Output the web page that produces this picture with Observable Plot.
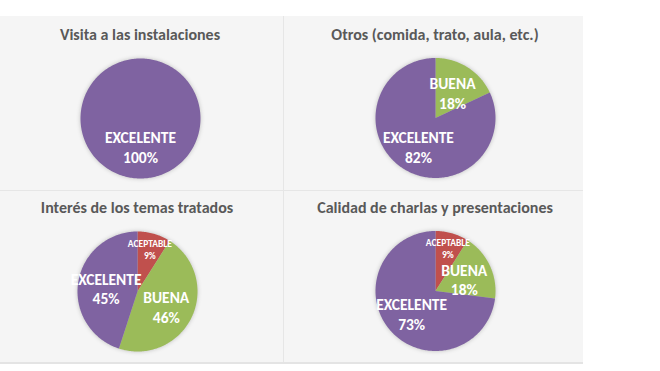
<!DOCTYPE html>
<html>
<head>
<meta charset="utf-8">
<script src="https://cdn.jsdelivr.net/npm/d3@7"></script>
<script src="https://cdn.jsdelivr.net/npm/@observablehq/plot@0.6"></script>
<style>
  html, body { margin: 0; padding: 0; background: #ffffff; }
  #root { position: relative; width: 660px; height: 371px; overflow: hidden; font-family: Carlito, Lato, "Open Sans", sans-serif; }
  #board { position: absolute; left: 0; top: 16px; width: 583px; height: 346px; background: #f5f5f5; border-bottom: 2px solid #e4e4e4; }
  .panel { position: absolute; }
  .panel .ttl { position: absolute; text-align: center; font-weight: 700; font-size: 16px; line-height: 20px; color: #595959; white-space: nowrap; }
  .vline { position: absolute; left: 283px; top: 16px; width: 1px; height: 346px; background: #e6e6e6; }
  .hline { position: absolute; left: 0; top: 190px; width: 583px; height: 1px; background: #e6e6e6; }
  svg g[aria-label="line"] { filter: drop-shadow(0 0 2px rgba(0,0,0,0.22)); }
</style>
</head>
<body>
<div id="root">
  <div id="board"></div>
  <div class="vline"></div>
  <div class="hline"></div>
</div>
<script>
// ---- data ----
const panelTitles = [
  "Visita a las instalaciones",
  "Otros (comida, trato, aula, etc.)",
  "Interés de los temas tratados",
  "Calidad de charlas y presentaciones"
];
const categories = ["ACEPTABLE", "BUENA", "EXCELENTE"];
const visitaValues = [0, 0, 100];
const otrosValues = [0, 18, 82];
const interesValues = [9, 46, 45];
const calidadValues = [9, 18, 73];
const panelValues = [visitaValues, otrosValues, interesValues, calidadValues];

// ---- styles / layout ----
const palette = ["#c0504d", "#9bbb59", "#7f63a1"];
const layout = [
  {left: 0,   top: 16,  width: 283, height: 174, cx: 140, cy: 102, titleTop: 9},
  {left: 283, top: 16,  width: 300, height: 174, cx: 152, cy: 101.5, titleTop: 9},
  {left: 0,   top: 190, width: 283, height: 172, cx: 137, cy: 101, titleTop: 8},
  {left: 283, top: 190, width: 300, height: 172, cx: 152, cy: 100.5, titleTop: 8}
];
const R = 60;
const labelFont = "Carlito, Lato, sans-serif";

const root = document.getElementById("root");

panelValues.forEach((vals, i) => {
  const L = layout[i];
  const rows = categories.map((c, k) => ({cat: c, value: vals[k]})).filter(d => d.value > 0);
  const arcs = d3.pie().sort(null).value(d => d.value)(rows);

  // polygon vertices for each slice (unit circle, angle 0 at 12 o'clock, clockwise)
  const pts = [];
  arcs.forEach(a => {
    const n = Math.max(2, Math.ceil((a.endAngle - a.startAngle) / 0.02));
    pts.push({cat: a.data.cat, x: 0, y: 0});
    for (let s = 0; s <= n; s++) {
      const t = a.startAngle + (a.endAngle - a.startAngle) * s / n;
      pts.push({cat: a.data.cat, x: Math.sin(t), y: Math.cos(t)});
    }
    pts.push({cat: a.data.cat, x: 0, y: 0});
  });

  const labels = arcs.map(a => {
    const mid = (a.startAngle + a.endAngle) / 2;
    const small = a.data.value < 10;
    const f = a.data.value === 100 ? 0.44 : small ? 0.74 : 0.53;
    return {
      cat: a.data.cat,
      small,
      x: Math.sin(mid) * f,
      y: Math.cos(mid) * f - (small ? 0 : 0.03),
      text: a.data.cat + "\n" + a.data.value + "%"
    };
  });

  const chart = Plot.plot({
    width: L.width,
    height: L.height,
    margin: 0,
    style: {background: "transparent", overflow: "visible"},
    x: {domain: [-1, 1], range: [L.cx - R, L.cx + R], axis: null},
    y: {domain: [-1, 1], range: [L.cy + R, L.cy - R], axis: null},
    color: {domain: categories, range: palette},
    marks: [
      Plot.line(pts, {x: "x", y: "y", z: "cat", fill: "cat", stroke: null, curve: "linear"}),
      Plot.text(labels.filter(d => !d.small), {
        x: "x", y: "y", text: "text", fill: "white", fontWeight: 700,
        fontSize: 15.5, lineHeight: 1.27, fontFamily: labelFont
      }),
      Plot.text(labels.filter(d => d.small), {
        x: "x", y: "y", text: "text", fill: "white", fontWeight: 700,
        fontSize: 9.5, lineHeight: 1.25, fontFamily: labelFont
      })
    ]
  });

  const panel = document.createElement("div");
  panel.className = "panel";
  panel.style.left = L.left + "px";
  panel.style.top = L.top + "px";
  panel.style.width = L.width + "px";
  panel.style.height = L.height + "px";
  const ttl = document.createElement("div");
  ttl.className = "ttl";
  ttl.style.top = L.titleTop + "px";
  ttl.style.left = (L.cx - 200) + "px";
  ttl.style.width = "400px";
  ttl.textContent = panelTitles[i];
  panel.appendChild(chart);
  panel.appendChild(ttl);
  root.appendChild(panel);
});
</script>
</body>
</html>
